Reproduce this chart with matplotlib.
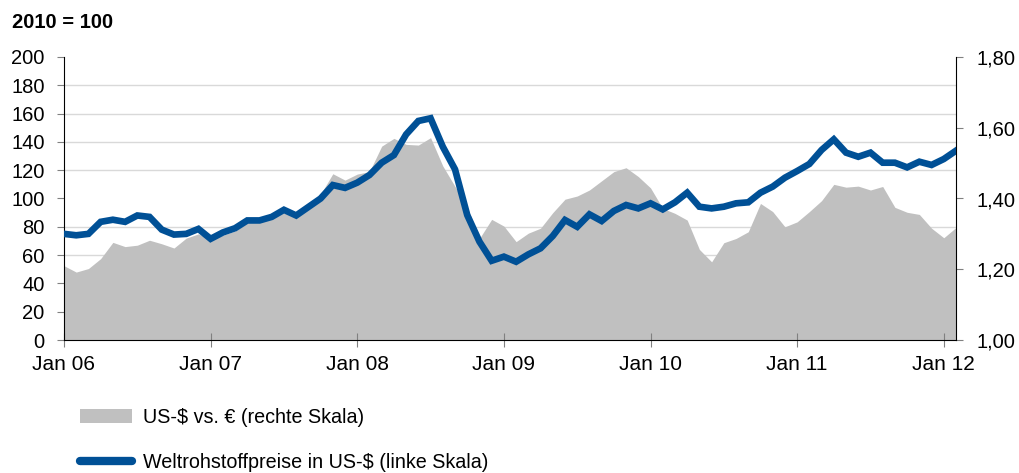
import numpy as np
import matplotlib.pyplot as plt
from matplotlib.lines import Line2D
from matplotlib.patches import Patch
from matplotlib.ticker import FuncFormatter

plt.rcParams['font.family'] = ['Liberation Sans', 'DejaVu Sans']

# monthly values, Jan 2006 - Feb 2012
# world commodity prices in US-$, index 2010 = 100 (left scale)
rohstoffe = [75, 74, 75, 83.5, 85, 83.5, 88, 87, 78, 74.5, 75, 78.5,
             71.5, 76, 79, 84.5, 84.5, 87, 92, 88, 94, 100, 109.5, 107.5,
             111.2, 116.6, 125.3, 130.7, 145.3, 154.8, 156.7, 136.6, 120.6, 88.3, 69.5, 56,
             58.9, 55.3, 60.5, 64.8, 73.5, 84.8, 80, 88.8, 84.1, 91.2, 95.4, 93,
             96.6, 92.3, 97.3, 104.1, 94.2, 93, 94.2, 96.6, 97.3, 104.1, 108.4, 114.7,
             119.4, 124.4, 134.3, 141.8, 132.4, 129.5, 132.4, 125.3, 125.3, 122, 126, 123.7,
             127.9, 133.8]

# US-$ per euro (right scale)
usd_eur = [1.210, 1.192, 1.202, 1.230, 1.276, 1.264, 1.268, 1.282, 1.272, 1.260, 1.288, 1.300,
           1.284, 1.296, 1.308, 1.332, 1.336, 1.344, 1.364, 1.352, 1.376, 1.412, 1.470, 1.452,
           1.469, 1.476, 1.548, 1.570, 1.553, 1.551, 1.572, 1.492, 1.434, 1.376, 1.287, 1.341,
           1.322, 1.278, 1.302, 1.316, 1.360, 1.398, 1.407, 1.424, 1.450, 1.476, 1.487, 1.462,
           1.430, 1.372, 1.358, 1.339, 1.256, 1.221, 1.275, 1.287, 1.306, 1.386, 1.363, 1.320,
           1.334, 1.363, 1.394, 1.440, 1.432, 1.435, 1.424, 1.434, 1.375, 1.361, 1.355, 1.316,
           1.289, 1.318]

x_labels = ['Jan 06', 'Jan 07', 'Jan 08', 'Jan 09', 'Jan 10', 'Jan 11', 'Jan 12']

blue = '#005096'
grey = '#c0c0c0'

months = np.arange(len(rohstoffe))

fig = plt.figure(figsize=(10.19, 4.73), dpi=100)
ax = fig.add_axes([64 / 1019, 1 - 340 / 473, 892 / 1019, 283 / 473])
ax2 = ax.twinx()
ax.set_zorder(ax2.get_zorder() + 1)
ax.patch.set_visible(False)

# exchange rate as grey area on the right axis, grid behind it
ax2.fill_between(months, 1.0, usd_eur, color=grey, lw=0, zorder=2)
ax2.set_ylim(1.0, 1.8)
ax2.set_yticks(np.arange(1.0, 1.81, 0.2))
ax2.yaxis.set_major_formatter(FuncFormatter(lambda v, p: f'{v:.2f}'.replace('.', ',')))
ax2.set_yticks(np.linspace(1.0, 1.8, 11), minor=True)
ax2.set_axisbelow(True)
ax2.grid(which='minor', axis='y', color='#d9d9d9', lw=1)
ax2.tick_params(axis='y', which='minor', length=0)
ax2.tick_params(axis='y', which='major', direction='out', length=5, color='#808080',
                labelsize=14.5, pad=10)
for s in ['top', 'left', 'bottom']:
    ax2.spines[s].set_visible(False)
ax2.spines['right'].set_color('black')

# commodity prices line on the left axis
ax.plot(months, rohstoffe, color=blue, lw=4.8, solid_joinstyle='miter', zorder=3)
ax.set_xlim(0, len(months) - 1)
ax.set_ylim(0, 200)
ax.set_yticks(range(0, 201, 20))
ax.set_xticks(range(0, len(months), 12))
ax.set_xticklabels(x_labels)
ax.tick_params(axis='y', direction='out', length=5, color='#808080', labelsize=14.5, pad=9)
ax.tick_params(axis='x', direction='inout', length=10, color='#808080', labelsize=15, pad=6)
ax.spines['top'].set_visible(False)
ax.spines['right'].set_visible(False)

fig.text(12 / 1019, 1 - 22 / 473, '2010 = 100', fontsize=14.5, fontweight='bold', va='center')

handles = [Patch(facecolor=grey, edgecolor='none'),
           Line2D([], [], color=blue, lw=6, solid_capstyle='round')]
labels = ['US-$ vs. € (rechte Skala)', 'Weltrohstoffpreise in US-$ (linke Skala)']
fig.legend(handles, labels, loc='upper left', bbox_to_anchor=(80 / 1019, 1 - 408 / 473),
           frameon=False, fontsize=14.2, handlelength=2.64, handletextpad=0.56,
           labelspacing=1.3, borderpad=0, borderaxespad=0)

fig.savefig('out.png', dpi=100)
